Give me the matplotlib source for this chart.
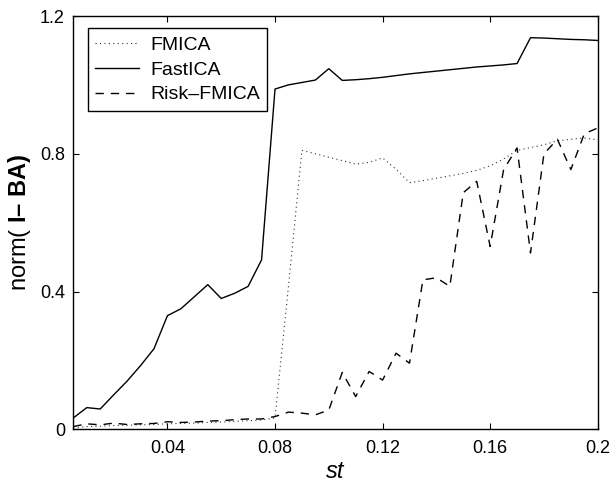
import matplotlib
matplotlib.use("Agg")
import matplotlib.pyplot as plt

plt.rcParams["font.family"] = ["Liberation Sans", "DejaVu Sans"]
plt.rcParams["mathtext.fontset"] = "custom"
plt.rcParams["mathtext.rm"] = "Liberation Sans"
plt.rcParams["mathtext.bf"] = "Liberation Sans:bold"
plt.rcParams["mathtext.it"] = "Liberation Sans:italic"

# st = 0.005 ... 0.2, step 0.005
st = [round(0.005 * k, 3) for k in range(1, 41)]

fmica = [0.004, 0.008, 0.009, 0.011, 0.012, 0.013, 0.014, 0.016, 0.017, 0.018,
         0.020, 0.021, 0.023, 0.025, 0.027, 0.033, 0.415, 0.810, 0.800, 0.790,
         0.780, 0.770, 0.775, 0.788, 0.755, 0.716, 0.722, 0.729, 0.736, 0.743,
         0.752, 0.765, 0.785, 0.810, 0.818, 0.826, 0.838, 0.842, 0.846, 0.840]

fastica = [0.033, 0.063, 0.059, 0.100, 0.140, 0.185, 0.234, 0.330, 0.350, 0.385,
           0.420, 0.380, 0.395, 0.415, 0.492, 0.988, 1.000, 1.007, 1.014, 1.047,
           1.013, 1.015, 1.018, 1.022, 1.027, 1.032, 1.036, 1.040, 1.044, 1.048,
           1.052, 1.055, 1.058, 1.062, 1.137, 1.136, 1.134, 1.132, 1.131, 1.129]

risk_fmica = [0.008, 0.016, 0.013, 0.018, 0.014, 0.016, 0.017, 0.022, 0.020, 0.021,
              0.024, 0.025, 0.028, 0.030, 0.030, 0.037, 0.050, 0.047, 0.042, 0.056,
              0.165, 0.095, 0.168, 0.143, 0.221, 0.192, 0.434, 0.440, 0.415, 0.687,
              0.720, 0.531, 0.754, 0.817, 0.512, 0.800, 0.842, 0.754, 0.858, 0.875]

xticks = [0.04, 0.08, 0.12, 0.16, 0.2]
xtick_labels = ["0.04", "0.08", "0.12", "0.16", "0.2"]
yticks = [0, 0.4, 0.8, 1.2]
ytick_labels = ["0", "0.4", "0.8", "1.2"]

fig = plt.figure(figsize=(6.13, 4.82), dpi=100)
ax = fig.add_axes([0.1196, 0.1093, 0.8555, 0.8575])

ax.plot(st, fmica, color="0.2", lw=0.8, linestyle=(0, (1, 3)), label="FMICA")
ax.plot(st, fastica, color="black", lw=1.0, linestyle="-", label="FastICA")
ax.plot(st, risk_fmica, color="black", lw=1.0, linestyle=(0, (6, 5)), label="Risk\u2013FMICA")

ax.set_xlim(0.005, 0.2)
ax.set_ylim(0, 1.2)
ax.set_xticks(xticks)
ax.set_xticklabels(xtick_labels)
ax.set_yticks(yticks)
ax.set_yticklabels(ytick_labels)
ax.tick_params(direction="in", length=4, width=0.8, labelsize=13,
               top=True, right=True)
ax.tick_params(axis="x", pad=8)
ax.tick_params(axis="y", pad=6)
for s in ax.spines.values():
    s.set_linewidth(1.0)

ax.set_xlabel("st", fontsize=17, style="italic", labelpad=2)
ax.set_ylabel("norm( $\\mathbf{I\u2013\\ BA)}$", fontsize=17, labelpad=5)

leg = ax.legend(loc="upper left", bbox_to_anchor=(0.0274, 0.970), borderaxespad=0,
                fontsize=14, handlelength=2.25, handletextpad=0.55,
                labelspacing=0.37, borderpad=0.4, fancybox=False,
                edgecolor="black", framealpha=1)
leg.get_frame().set_linewidth(1.0)

fig.savefig("out.png", dpi=100)
